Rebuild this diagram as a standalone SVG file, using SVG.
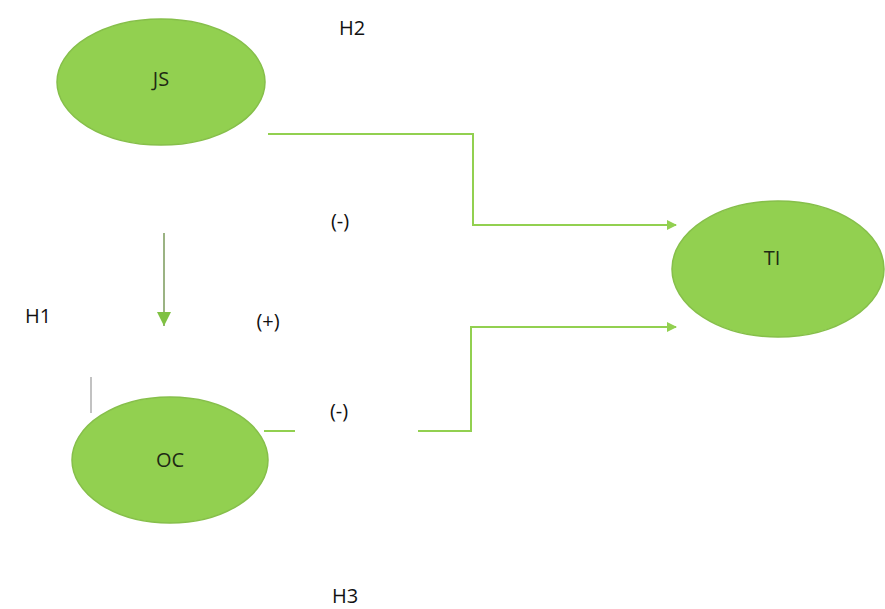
<svg xmlns="http://www.w3.org/2000/svg" width="885" height="609" viewBox="0 0 885 609">
<style>
.node{fill:#92d050;stroke:#86bf4a;stroke-width:1.5}
.nt{font-family:"Open Sans","Liberation Sans",sans-serif;font-size:20px;fill:#1e2a14;text-anchor:middle}
.lb{font-family:"Open Sans","Liberation Sans",sans-serif;font-size:20px;fill:#111;text-anchor:middle}
.ln{fill:none;stroke:#92d050;stroke-width:2}
</style>
<defs>
<marker id="ah" markerWidth="10" markerHeight="10" refX="9" refY="5" orient="auto" markerUnits="userSpaceOnUse" viewBox="0 0 10 10">
<path d="M0,0 L10,5 L0,10 z" fill="#92d050"/>
</marker>
<marker id="ahd" markerWidth="18" markerHeight="14" refX="14" refY="7" orient="auto" markerUnits="userSpaceOnUse" viewBox="0 0 14 14">
<path d="M0,0 L14,7 L0,14 z" fill="#7fc143"/>
</marker>
</defs>
<rect width="885" height="609" fill="#fff"/>
<g id="connectors">
<path class="ln" d="M268,134 H473 V225 H676" marker-end="url(#ah)"/>
<path class="ln" d="M264,431 H295"/>
<path class="ln" d="M418,431 H471 V327 H676" marker-end="url(#ah)"/>
<path d="M164,233 V326" stroke="#7a9a5a" stroke-width="1.5" fill="none" marker-end="url(#ahd)"/>
<path d="M91,377 V413" stroke="#999" stroke-width="1.2" fill="none"/>
</g>
<g id="JS"><ellipse class="node" cx="161" cy="82" rx="104" ry="63"/><text class="nt" x="161" y="86">JS</text></g>
<g id="TI"><ellipse class="node" cx="778" cy="269" rx="106" ry="68"/><text class="nt" x="772" y="265">TI</text></g>
<g id="OC"><ellipse class="node" cx="170" cy="460" rx="98" ry="63"/><text class="nt" x="170" y="467">OC</text></g>
<g id="labels">
<text class="lb" x="352" y="35">H2</text>
<text class="lb" x="340" y="228">(-)</text>
<text class="lb" x="38" y="323">H1</text>
<text class="lb" x="268" y="328">(+)</text>
<text class="lb" x="339" y="418">(-)</text>
<text class="lb" x="345" y="603">H3</text>
</g>
</svg>
